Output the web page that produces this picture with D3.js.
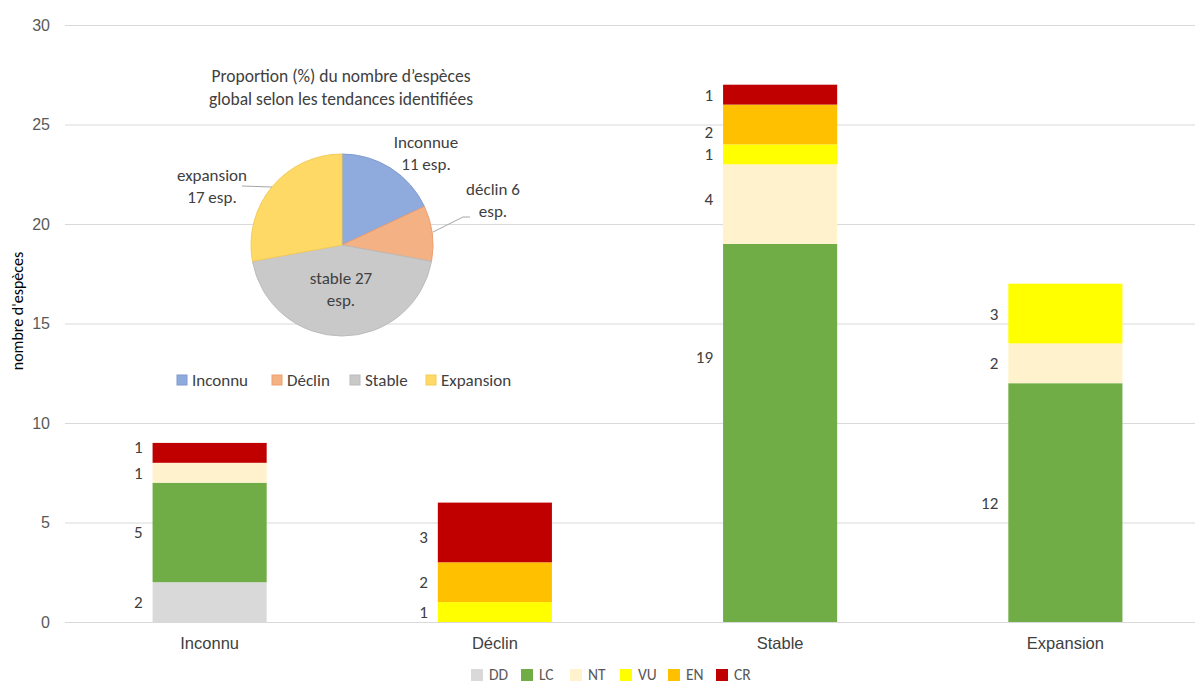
<!DOCTYPE html>
<html>
<head>
<meta charset="utf-8">
<script src="https://cdn.jsdelivr.net/npm/d3@7"></script>
<style>
  html, body { margin: 0; padding: 0; background: #fff; }
  svg { display: block; font-family: Carlito, Lato, "Liberation Sans", sans-serif; }
</style>
</head>
<body>
<svg id="chart" width="1195" height="684"></svg>
<script>
// Trend categories (x axis)
const categories = ["Inconnu", "Déclin", "Stable", "Expansion"];
// IUCN status series, stacked bottom to top
const statuses = ["DD", "LC", "NT", "VU", "EN", "CR"];
const DD = [2, 0, 0, 0];
const LC = [5, 0, 19, 12];
const NT = [1, 0, 4, 2];
const VU = [0, 1, 1, 3];
const EN = [0, 2, 2, 0];
const CR = [1, 3, 1, 0];
const yTicks = [0, 5, 10, 15, 20, 25, 30];

// Inset pie: species count by trend
const pieNames = ["Inconnu", "Déclin", "Stable", "Expansion"];
const pieValues = [11, 6, 27, 17];
const pieLabels = [["Inconnue", "11 esp."], ["déclin 6", "esp."], ["stable 27", "esp."], ["expansion", "17 esp."]];
const pieTitle = ["Proportion (%) du nombre d’espèces", "global selon les tendances identifiées"];
const yTitle = "nombre d'espèces";

const statusColors = { DD: "#D9D9D9", LC: "#70AD47", NT: "#FFF2CC", VU: "#FFFF00", EN: "#FFC000", CR: "#C00000" };
const pieColors = ["#8FAADC", "#F4B183", "#C9C9C9", "#FFD966"];
const pieStroke = ["#7F9AD0", "#EC9F72", "#BBBBBB", "#F3CB59"];

const svg = d3.select("#chart");
const series = { DD, LC, NT, VU, EN, CR };

const table = categories.map((c, i) => {
  const row = { category: c };
  statuses.forEach(s => row[s] = series[s][i]);
  return row;
});

const x = d3.scaleBand().domain(categories).range([67, 1208]).paddingInner(0.6).paddingOuter(0.3);
const y = d3.scaleLinear().domain([0, 30]).range([622, 25]);

// Gridlines
svg.append("g").selectAll("line").data(yTicks).join("line")
  .attr("x1", 65).attr("x2", 1195)
  .attr("y1", d => y(d) + 0.5).attr("y2", d => y(d) + 0.5)
  .attr("stroke", "#D9D9D9").attr("stroke-width", 1);

// Y axis tick labels
const yAxis = d3.axisLeft(y).tickValues(yTicks).tickSize(0).tickPadding(0);
svg.append("g").attr("transform", "translate(50,0)").call(yAxis)
  .call(g => g.select(".domain").remove())
  .call(g => g.selectAll("text").attr("font-size", 16).attr("fill", "#595959").attr("font-family", null));

// Y axis title
svg.append("text")
  .attr("transform", "translate(23,311) rotate(-90)")
  .attr("text-anchor", "middle").attr("font-size", 16).attr("fill", "#000")
  .text(yTitle);

// X axis labels
const xAxis = d3.axisBottom(x).tickSize(0).tickPadding(0);
svg.append("g").attr("transform", "translate(0,637)").call(xAxis)
  .call(g => g.select(".domain").remove())
  .call(g => g.selectAll("text").attr("font-size", 16.5).attr("fill", "#404040").attr("font-family", null));

// Stacked bars
const stacked = d3.stack().keys(statuses)(table);
const layers = svg.append("g").selectAll("g").data(stacked).join("g")
  .attr("fill", d => statusColors[d.key]);
layers.selectAll("rect").data(d => d.filter(p => p[1] - p[0] > 0)).join("rect")
  .attr("x", d => x(d.data.category))
  .attr("width", x.bandwidth())
  .attr("y", d => y(d[1]))
  .attr("height", d => y(d[0]) - y(d[1]));

// Value labels placed left of each segment
const labelShift = { "Stable-LC": -76, "Inconnu-CR": -6, "Stable-EN": 8, "Stable-NT": -5, "Déclin-CR": 5 };
const labelData = [];
stacked.forEach(layer => layer.forEach(p => {
  const v = p[1] - p[0];
  if (v > 0) labelData.push({ key: layer.key, cat: p.data.category, v, mid: (p[0] + p[1]) / 2 });
}));
svg.append("g").selectAll("text").data(labelData).join("text")
  .attr("x", d => x(d.cat) - 10)
  .attr("y", d => y(d.mid) + (labelShift[d.cat + "-" + d.key] || 0))
  .attr("dy", "0.35em")
  .attr("text-anchor", "end").attr("font-size", 17).attr("fill", "#404040")
  .text(d => d.v);

// Bottom legend
const legendX = [471, 521, 570, 620, 668, 716];
const lg = svg.append("g").selectAll("g").data(statuses).join("g")
  .attr("transform", (d, i) => `translate(${legendX[i]},669)`);
lg.append("rect").attr("width", 12).attr("height", 12).attr("fill", d => statusColors[d]);
lg.append("text").attr("x", 18).attr("y", 6).attr("dy", "0.35em")
  .attr("font-size", 15.5).attr("fill", "#595959").text(d => d);

// Inset pie chart
const cx = 342, cy = 245, r = 91;
const pie = d3.pie().sort(null).value(d => d)(pieValues);
const arc = d3.arc().innerRadius(0).outerRadius(r);
const pg = svg.append("g").attr("transform", `translate(${cx},${cy})`);
pg.selectAll("path").data(pie).join("path")
  .attr("d", arc)
  .attr("fill", (d, i) => pieColors[i])
  .attr("stroke", (d, i) => pieStroke[i]).attr("stroke-width", 1);

// Pie title
svg.append("g").selectAll("text").data(pieTitle).join("text")
  .attr("x", 341).attr("y", (d, i) => 76 + i * 23).attr("dy", "0.35em")
  .attr("text-anchor", "middle").attr("font-size", 17.5).attr("fill", "#404040")
  .text(d => d);

// Pie slice labels with leader lines
const labelPos = [[426, 142], [493, 189], [341, 278], [212, 175]];
const lead = [null, [[433, 232], [463, 217], [470, 217]], null, [[242, 186], [272, 187]]];
lead.forEach(pts => {
  if (!pts) return;
  svg.append("path").attr("d", d3.line()(pts)).attr("fill", "none")
    .attr("stroke", "#A6A6A6").attr("stroke-width", 1);
});
pieLabels.forEach((lines, i) => {
  const t = svg.append("text").attr("text-anchor", "middle").attr("font-size", 17).attr("fill", "#404040");
  lines.forEach((s, j) => {
    t.append("tspan").attr("x", labelPos[i][0]).attr("y", labelPos[i][1] + j * 22).attr("dy", "0.35em").text(s);
  });
});

// Pie legend
const pieLegendX = [177, 272, 350, 426];
const pl = svg.append("g").selectAll("g").data(pieNames).join("g")
  .attr("transform", (d, i) => `translate(${pieLegendX[i]},375)`);
pl.append("rect").attr("width", 10).attr("height", 10)
  .attr("fill", (d, i) => pieColors[i]).attr("stroke", (d, i) => pieStroke[i]);
pl.append("text").attr("x", 15).attr("y", 5).attr("dy", "0.35em")
  .attr("font-size", 17).attr("fill", "#404040").text(d => d);
</script>
</body>
</html>
